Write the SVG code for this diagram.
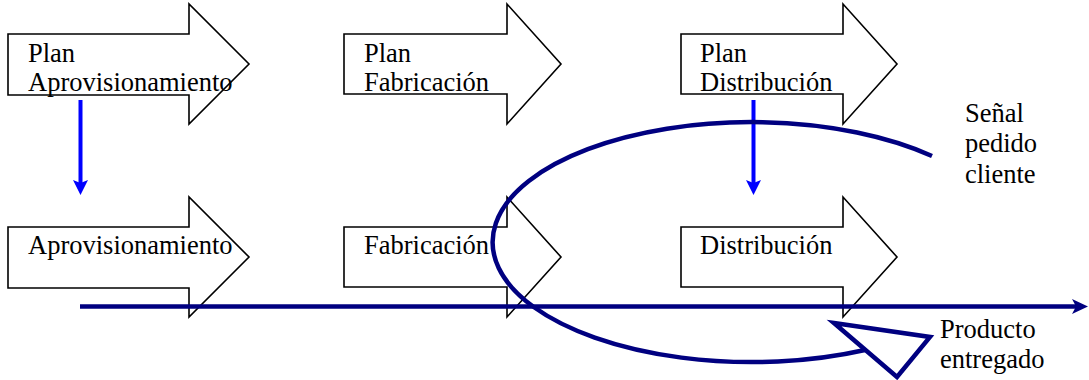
<svg xmlns="http://www.w3.org/2000/svg" width="1089" height="380" viewBox="0 0 1089 380">
  <style>
    .blk { fill: #ffffff; stroke: #000000; stroke-width: 1.6; stroke-linejoin: miter; }
    .lbl { font-size: 26.5px; fill: #000000; }
    .flow { fill: none; stroke: #000080; stroke-width: 4.5; }
    .plan { stroke: #0000ff; stroke-width: 4; }
  </style>
  <defs>
    <!-- block arrow shapes: rectangular body, triangular head -->
    <path id="blockA" d="M0 30 H181 V0 L241 60 L181 120 V91 H0 Z"/>
    <path id="blockB" d="M0 30 H163 V0 L217 60 L163 120 V90 H0 Z"/>
    <path id="blockC" d="M0 30 H162 V0 L216 60 L162 120 V90 H0 Z"/>
  </defs>

  <g font-family="'Liberation Serif', serif">
  <!-- planning row -->
  <g id="plan-aprovisionamiento">
    <use href="#blockA" class="blk" x="8" y="4"/>
    <text class="lbl" x="28" y="62">Plan</text>
    <text class="lbl" x="28" y="91">Aprovisionamiento</text>
  </g>
  <g id="plan-fabricacion">
    <use href="#blockB" class="blk" x="344" y="4"/>
    <text class="lbl" x="364" y="62">Plan</text>
    <text class="lbl" x="364" y="91">Fabricación</text>
  </g>
  <g id="plan-distribucion">
    <use href="#blockC" class="blk" x="681" y="4"/>
    <text class="lbl" x="700" y="62">Plan</text>
    <text class="lbl" x="700" y="91">Distribución</text>
  </g>

  <!-- execution row -->
  <g id="aprovisionamiento">
    <use href="#blockA" class="blk" x="8" y="197"/>
    <text class="lbl" x="28" y="254">Aprovisionamiento</text>
  </g>
  <g id="fabricacion">
    <use href="#blockB" class="blk" x="344" y="197"/>
    <text class="lbl" x="364" y="254">Fabricación</text>
  </g>
  <g id="distribucion">
    <use href="#blockC" class="blk" x="681" y="197"/>
    <text class="lbl" x="700" y="254">Distribución</text>
  </g>

  <!-- side labels -->
  <g id="senal-pedido">
    <text class="lbl" x="965" y="122">Señal</text>
    <text class="lbl" x="965" y="152">pedido</text>
    <text class="lbl" x="965" y="183">cliente</text>
  </g>
  <g id="producto-entregado">
    <text class="lbl" x="940" y="338">Producto</text>
    <text class="lbl" x="940" y="368">entregado</text>
  </g>
  </g>

  <g id="connectors">
    <!-- plan to execution -->
    <line class="plan" x1="80.5" y1="100" x2="80.5" y2="184"/>
    <polygon points="73,180 80.5,183 88,180 80.5,195" fill="#0000ff"/>
    <line class="plan" x1="753.5" y1="100" x2="753.5" y2="184"/>
    <polygon points="746,180 753.5,183 761,180 753.5,195" fill="#0000ff"/>

    <!-- material flow line -->
    <line class="flow" x1="80" y1="306.5" x2="1078" y2="306.5"/>
    <polygon points="1088,306.5 1072,299 1076,306.5 1072,314" fill="#000080"/>

    <!-- order cycle loop -->
    <path class="flow" d="M932 156 A259 120 0 1 0 865 350"/>
    <polygon class="flow" points="834,323 930,337 897,377" stroke-linejoin="miter"/>
  </g>
</svg>
